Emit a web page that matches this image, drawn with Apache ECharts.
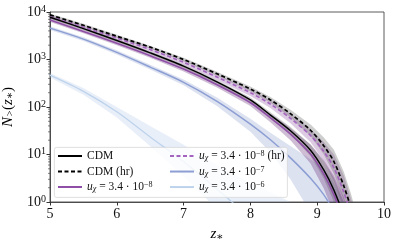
<!DOCTYPE html>
<html>
<head>
<meta charset="utf-8">
<script src="https://cdn.jsdelivr.net/npm/echarts@6/dist/echarts.min.js"></script>
<style>html,body{margin:0;padding:0;background:#fff}#c{width:398px;height:245px}</style>
</head>
<body>
<div id="c"></div>
<script>
// redshift grid
var zGrid = [5, 5.5, 6, 6.5, 7, 7.5, 8, 8.3, 8.6, 8.9, 9.1, 9.25, 9.4, 9.5, 9.6];
// CDM
var cdm     = [7760, 4470, 2510, 1380, 724, 339, 141, 67.6, 31.6, 12.3, 4.68, 1.78, 0.5, 0.16, 0.05];
var cdmLo   = [7240, 4170, 2340, 1287, 668, 309, 126, 58.9, 26.3, 9.33, 3.09, 1.0, 0.25, 0.08, 0.025];
var cdmHi   = [8320, 4790, 2690, 1480, 785, 372, 158, 77.6, 38.0, 16.2, 7.09, 3.16, 1.0, 0.32, 0.1];
// CDM (hr)
var cdmHr   = [8710, 5250, 3090, 1820, 1000, 501, 240, 141, 72.4, 32.4, 15.1, 7.08, 2.14, 0.79, 0.25];
var cdmHrLo = [8130, 4900, 2880, 1700, 923, 457, 214, 123, 60.2, 24.6, 9.97, 3.98, 1.07, 0.40, 0.125];
var cdmHrHi = [9340, 5630, 3310, 1950, 1084, 549, 269, 162, 87.0, 42.7, 22.9, 12.6, 4.27, 1.58, 0.5];
// u = 3.4e-8
var u8      = [6760, 3890, 2190, 1200, 631, 295, 123, 58.9, 26.9, 10.2, 3.8, 1.41, 0.4, 0.13, 0.04];
var u8Lo    = [6170, 3550, 2000, 1082, 562, 257, 105, 47.9, 19.9, 6.44, 1.9, 0.56, 0.126, 0.041, 0.0126];
var u8Hi    = [7410, 4260, 2400, 1331, 708, 339, 145, 72.4, 36.3, 16.2, 7.58, 3.54, 1.26, 0.41, 0.126];
// u = 3.4e-8 (hr)
var u8Hr    = [7940, 4790, 2820, 1620, 871, 427, 200, 115, 57.5, 25.1, 11.5, 5.25, 1.58, 0.56, 0.18];
var u8HrLo  = [7240, 4370, 2570, 1461, 776, 372, 170, 95.7, 45.7, 18.2, 7.26, 2.76, 0.71, 0.25, 0.08];
var u8HrHi  = [8700, 5250, 3090, 1797, 977, 490, 235, 138, 72.4, 34.6, 18.2, 10.0, 3.54, 1.25, 0.4];
// u = 3.4e-7
var u7      = [4570, 2690, 1410, 692, 331, 132, 43.7, 20.4, 8.5, 3.16, 1.41, 0.63, 0.25, 0.1, 0.04];
var u7Lo    = [4170, 2450, 1271, 617, 288, 105, 30.0, 11.0, 3.0, 0.6, 0.2, 0.1, 0.05, 0.025, 0.01];
var u7Hi    = [5010, 2950, 1564, 776, 380, 159, 56.3, 28.8, 15.1, 7.94, 5.0, 2.51, 1.0, 0.4, 0.16];
// u = 3.4e-6
var u6      = [468, 214, 79.4, 23.4, 7.08, 1.86, 0.45, 0.16, 0.05, 0.016, 0.0063, 0.0032, 0.0016, 0.001, 0.00063];
var u6Lo    = [420, 180, 60, 15, 3.5, 0.7, 0.13, 0.04, 0.01, 0.0032, 0.001, 0.0005, 0.00025, 0.00016, 0.0001];
var u6Hi    = [520, 250, 100, 40, 16, 6, 2.5, 1.6, 1.0, 0.5, 0.25, 0.12, 0.06, 0.03, 0.02];
// axis ticks
var xTicks = [5, 6, 7, 8, 9, 10];
var yMinorTicks = [2,3,4,5,6,7,8,9,20,30,40,50,60,70,80,90,200,300,400,500,600,700,800,900,2000,3000,4000,5000,6000,7000,8000,9000];

var SERIF = '"Liberation Serif", "DejaVu Serif", serif';
function mkRich(base) {
  return {
    i: {fontStyle: 'italic', fontFamily: SERIF, fontSize: base},
    sub: {fontStyle: 'italic', fontFamily: SERIF, fontSize: base * 0.7, verticalAlign: 'bottom', padding: [base * 0.35, 0, 0, 0]},
    sup: {fontFamily: SERIF, fontSize: base * 0.7, verticalAlign: 'top', padding: [0, 0, base * 0.35, 0]}
  };
}
var legRich = mkRich(11.5);
var nameRich = mkRich(15);
var labels = {
  'CDM': 'CDM',
  'CDM (hr)': 'CDM (hr)',
  'u8': '{i|u}{sub|χ} = 3.4 · 10{sup|−8}',
  'u8hr': '{i|u}{sub|χ} = 3.4 · 10{sup|−8} (hr)',
  'u7': '{i|u}{sub|χ} = 3.4 · 10{sup|−7}',
  'u6': '{i|u}{sub|χ} = 3.4 · 10{sup|−6}'
};

function pairs(arr) { return zGrid.map(function (z, i) { return [z, arr[i]]; }); }

function band(name, lo, hi, color) {
  return {
    type: 'custom', name: name + '_band', silent: true, z: 1,
    data: [0],
    renderItem: function (params, api) {
      var pts = [];
      for (var i = 0; i < zGrid.length; i++) pts.push(api.coord([zGrid[i], hi[i]]));
      for (var j = zGrid.length - 1; j >= 0; j--) pts.push(api.coord([zGrid[j], lo[j]]));
      var cs = params.coordSys;
      return {
        type: 'group',
        clipPath: {type: 'rect', shape: {x: cs.x, y: cs.y, width: cs.width, height: cs.height}},
        children: [{type: 'polygon', shape: {points: pts, smooth: 0}, style: {fill: color, stroke: null}}]
      };
    }
  };
}
function line(name, arr, color, width, dashed, z) {
  return {
    type: 'line', name: name, data: pairs(arr), symbol: 'none', smooth: 0.3, clip: true, z: z,
    lineStyle: {color: color, width: width, type: dashed ? [4, 2.5] : 'solid'},
    itemStyle: {color: color}
  };
}
function legend(left, names) {
  return {
    left: left, top: 150, orient: 'vertical', padding: 0, itemGap: 3.5, itemWidth: 24, itemHeight: 11, z: 20,
    data: names,
    itemStyle: {opacity: 0},
    formatter: function (n) { return labels[n]; },
    textStyle: {fontFamily: SERIF, fontSize: 11.5, color: '#111', rich: legRich}
  };
}

var chart = echarts.init(document.getElementById('c'), null, {renderer: 'canvas'});
var option = {
  animation: false,
  backgroundColor: '#fff',
  grid: {left: 50, right: 14, top: 12, bottom: 43, show: true, borderColor: '#333', borderWidth: 0.8, backgroundColor: 'transparent', containLabel: false, outerBoundsMode: 'none'},
  xAxis: {
    type: 'value', min: 5, max: 10, interval: 1,
    name: '{i|z}{sub|∗}', nameLocation: 'middle', nameGap: 24,
    nameTextStyle: {rich: nameRich, fontFamily: SERIF, fontSize: 15, color: '#000'},
    axisLine: {show: true, lineStyle: {color: '#333', width: 0.8}},
    axisTick: {show: true, inside: false, length: 3.5, lineStyle: {color: '#333'}},
    axisLabel: {fontFamily: SERIF, fontSize: 14, color: '#111', margin: 5},
    splitLine: {show: false}
  },
  yAxis: {
    type: 'log', logBase: 10, min: 1, max: 10000,
    name: '{i|N}{sub|>}({i|z}{sub|∗})', nameLocation: 'middle', nameGap: 30,
    nameTextStyle: {rich: nameRich, fontFamily: SERIF, fontSize: 15, color: '#000'},
    axisLine: {show: true, lineStyle: {color: '#333', width: 0.8}},
    axisTick: {show: true, inside: false, length: 3.5, lineStyle: {color: '#333'}},
    axisLabel: {
      margin: 4,
      formatter: function (v) { return '{b|10}{e|' + Math.round(Math.log10(v)) + '}'; },
      rich: {
        b: {fontFamily: SERIF, fontSize: 14, color: '#111'},
        e: {fontFamily: SERIF, fontSize: 10, color: '#111', verticalAlign: 'top', padding: [0, 0, 6, 0]}
      }
    },
    splitLine: {show: false}
  },
  legend: [legend(57, ['CDM', 'CDM (hr)', 'u8']), legend(169, ['u8hr', 'u7', 'u6'])],
  graphic: [{
    type: 'rect', z: 10, left: 54, top: 147, silent: true,
    shape: {width: 233, height: 50, r: 2},
    style: {fill: 'rgba(255,255,255,0.8)', stroke: '#d8d8d8', lineWidth: 0.8}
  }],
  series: [
    band('u6', u6Lo, u6Hi, 'rgba(175,198,232,0.28)'),
    band('u7', u7Lo, u7Hi, 'rgba(120,140,200,0.25)'),
    band('u8', u8Lo, u8Hi, 'rgba(105,50,125,0.32)'),
    band('u8hr', u8HrLo, u8HrHi, 'rgba(130,70,150,0.28)'),
    band('CDM', cdmLo, cdmHi, 'rgba(80,80,80,0.28)'),
    band('CDM (hr)', cdmHrLo, cdmHrHi, 'rgba(80,80,80,0.28)'),
    line('u6', u6, '#bdd3ec', 1.3, false, 3),
    line('u7', u7, '#8c9ed3', 1.5, false, 3),
    line('u8', u8, '#8f4fa6', 1.6, false, 4),
    line('u8hr', u8Hr, '#a463bf', 1.6, true, 4),
    line('CDM', cdm, '#000000', 1.4, false, 5),
    line('CDM (hr)', cdmHr, '#000000', 1.7, true, 5),
    {
      type: 'custom', name: 'minor', silent: true, clip: false, z: 6,
      data: yMinorTicks.map(function (v) { return [xTicks[0], v]; }),
      renderItem: function (params, api) {
        var p = api.coord([api.value(0), api.value(1)]);
        return {type: 'line', shape: {x1: p[0], y1: p[1], x2: p[0] - 2, y2: p[1]}, style: {stroke: '#333', lineWidth: 0.6}};
      }
    }
  ]
};
chart.setOption(option);
</script>
</body>
</html>
